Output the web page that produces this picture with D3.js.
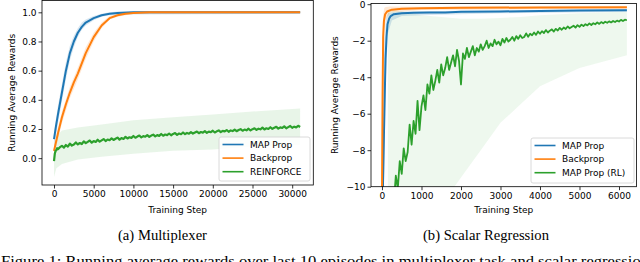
<!DOCTYPE html>
<html>
<head>
<meta charset="utf-8">
<script src="https://cdn.jsdelivr.net/npm/d3@7"></script>
<style>
  body { margin: 0; background: #fff; }
  text { font-family: "DejaVu Sans", sans-serif; }
</style>
</head>
<body>
<svg id="fig" width="640" height="262"></svg>
<script>
// ---- data ----
// (a) Multiplexer : [step, value]
const muxMapProp = [[0,0.13],[250,0.22],[500,0.3],[1000,0.45],[1500,0.6],[2000,0.72],[2500,0.8],[3000,0.86],[3500,0.9],[4000,0.93],[5000,0.96],[6000,0.98],[7000,0.99],[8000,0.995],[10000,1.0],[20000,1.0],[31000,1.0]];
const muxBackprop = [[0,0.05],[250,0.11],[500,0.17],[1000,0.28],[1500,0.37],[2000,0.45],[2500,0.52],[3000,0.58],[4000,0.72],[5000,0.83],[6000,0.91],[7000,0.96],[8000,0.98],[9000,0.99],[10000,0.995],[12000,1.0],[31000,1.0]];
const muxReinforce = [[0,-0.02],[100,0.03],[200,0.05],[300,0.055],[400,0.068],[500,0.062],[750,0.075],
  [1000,0.085],[1250,0.072],[1500,0.09],[1750,0.079],[2000,0.1],[2250,0.086],[2500,0.093],[2750,0.108],[3000,0.094],[3250,0.104],[3500,0.097],[3750,0.115],
  [4000,0.103],[4250,0.112],[4500,0.121],[4750,0.106],[5000,0.117],[5250,0.111],[5500,0.126],[5750,0.113],[6000,0.122],[6250,0.131],[6500,0.117],[6750,0.128],
  [7000,0.123],[7250,0.136],[7500,0.125],[7750,0.133],[8000,0.141],[8250,0.127],[8500,0.138],[8750,0.132],[9000,0.146],[9250,0.135],[9500,0.143],[9750,0.139],
  [10000,0.152],[10250,0.14],[10500,0.148],[10750,0.155],[11000,0.142],[11250,0.151],[11500,0.147],[11750,0.158],[12000,0.146],[12250,0.155],[12500,0.161],[12750,0.149],
  [13000,0.158],[13250,0.153],[13500,0.166],[13750,0.154],[14000,0.162],[14250,0.158],[14500,0.169],[14750,0.157],[15000,0.166],[15250,0.172],[15500,0.16],[15750,0.169],
  [16000,0.164],[16250,0.176],[16500,0.165],[16750,0.173],[17000,0.168],[17250,0.179],[17500,0.169],[17750,0.176],[18000,0.182],[18250,0.171],[18500,0.179],[18750,0.175],
  [19000,0.185],[19250,0.174],[19500,0.182],[19750,0.178],[20000,0.188],[20250,0.176],[20500,0.184],[20750,0.19],[21000,0.179],[21250,0.187],[21500,0.183],[21750,0.193],
  [22000,0.181],[22250,0.19],[22500,0.186],[22750,0.196],[23000,0.185],[23250,0.193],[23500,0.199],[23750,0.188],[24000,0.196],[24250,0.191],[24500,0.202],[24750,0.19],
  [25000,0.199],[25250,0.205],[25500,0.194],[25750,0.202],[26000,0.198],[26250,0.209],[26500,0.197],[26750,0.205],[27000,0.2],[27250,0.212],[27500,0.201],[27750,0.208],
  [28000,0.215],[28250,0.203],[28500,0.211],[28750,0.207],[29000,0.218],[29250,0.205],[29500,0.213],[29750,0.221],[30000,0.208],[30250,0.216],[30500,0.211],[30750,0.222],[31000,0.214]];
// bands : [step, low, high]
const muxMapPropBand = [[0,0.08,0.18],[500,0.24,0.36],[1000,0.39,0.51],[1500,0.54,0.66],[2000,0.67,0.77],[2500,0.76,0.84],[3000,0.83,0.89],[3500,0.88,0.93],[4000,0.91,0.95],[5000,0.945,0.975],[6000,0.97,0.99],[7000,0.98,1.0],[8000,0.985,1.005],[31000,0.99,1.005]];
const muxBackpropBand = [[0,0.01,0.09],[500,0.13,0.21],[1000,0.24,0.32],[2000,0.41,0.49],[3000,0.54,0.62],[4000,0.68,0.76],[5000,0.8,0.86],[6000,0.89,0.93],[7000,0.95,0.975],[8000,0.97,0.99],[10000,0.99,1.0],[31000,0.995,1.005]];
const muxReinforceBand = [[0,-0.13,0.06],[300,-0.07,0.15],[1000,-0.04,0.19],[3000,-0.01,0.21],[6000,0.01,0.23],[10000,0.03,0.26],[15000,0.05,0.28],[20000,0.06,0.3],[25000,0.08,0.32],[31000,0.09,0.34]];

// (b) Scalar Regression : [step, value]
const regMapProp = [[20,-10.5],[60,-6],[90,-3],[115,-1.8],[140,-1.1],[180,-0.8],[220,-0.65],[300,-0.55],[500,-0.5],[800,-0.47],[1200,-0.45],[1600,-0.46],[2000,-0.42],[3000,-0.4],[4000,-0.37],[5000,-0.35],[6200,-0.33]];
const regBackprop = [[0,-10.5],[15,-5],[30,-1.8],[50,-0.9],[80,-0.55],[130,-0.4],[250,-0.3],[500,-0.25],[1000,-0.22],[2000,-0.2],[4000,-0.18],[6200,-0.17]];
const regMapPropRL = [[200,-10.8],[250,-10.2],[300,-10.9],[350,-9.4],[400,-10.1],[450,-8.6],[500,-9.3],[550,-7.9],[600,-8.6],[650,-8.1],[700,-6.6],[750,-7.7],
  [800,-6.4],[850,-7.1],[900,-5.3],[950,-6.9],[1000,-5.6],[1050,-5.0],[1100,-5.8],[1150,-4.4],[1200,-4.9],[1250,-3.9],[1300,-4.7],[1350,-4.2],
  [1400,-3.6],[1450,-4.3],[1500,-3.3],[1550,-3.9],[1600,-3.5],[1650,-2.9],[1700,-3.6],[1750,-3.2],[1800,-2.8],[1850,-3.4],[1900,-2.5],[1950,-3.1],
  [2000,-4.4],[2050,-2.7],[2100,-3.0],[2150,-2.4],[2200,-2.9],[2250,-2.6],[2300,-2.3],[2350,-2.8],[2400,-2.4],[2450,-2.6],[2500,-2.2],[2550,-2.5],
  [2600,-2.3],[2650,-2.0],[2700,-2.4],[2750,-2.15],[2800,-2.3],[2850,-1.95],[2900,-2.2],[2950,-2.05],[3000,-2.25],[3050,-1.9],[3100,-2.1],[3150,-1.85],
  [3200,-2.05],[3250,-1.95],[3300,-1.8],[3350,-2.0],[3400,-1.75],[3450,-1.9],[3500,-1.7],[3550,-1.85],[3600,-1.8],[3650,-1.6],[3700,-1.78],[3750,-1.62],
  [3800,-1.7],[3850,-1.55],[3900,-1.68],[3950,-1.5],[4000,-1.62],[4050,-1.48],[4100,-1.58],[4150,-1.42],[4200,-1.55],[4250,-1.45],[4300,-1.38],[4350,-1.5],
  [4400,-1.35],[4450,-1.44],[4500,-1.3],[4550,-1.4],[4600,-1.28],[4650,-1.36],[4700,-1.22],[4750,-1.32],[4800,-1.25],[4850,-1.18],[4900,-1.28],[4950,-1.15],
  [5000,-1.24],[5050,-1.12],[5100,-1.2],[5150,-1.1],[5200,-1.16],[5250,-1.05],[5300,-1.14],[5350,-1.04],[5400,-1.1],[5450,-1.0],[5500,-1.08],[5550,-0.98],
  [5600,-1.05],[5650,-0.96],[5700,-1.02],[5750,-0.94],[5800,-1.0],[5850,-0.92],[5900,-0.98],[5950,-0.9],[6000,-0.95],[6050,-0.86],[6100,-0.92],[6150,-0.85],[6200,-0.88]];
const regMapPropBand = [[20,-12,-5],[60,-9,-2],[100,-4,-0.8],[150,-1.6,-0.5],[250,-0.9,-0.45],[500,-0.65,-0.4],[1000,-0.6,-0.38],[3000,-0.5,-0.33],[6200,-0.42,-0.27]];
const regBackpropBand = [[0,-12,-2],[30,-3,-0.6],[60,-1.3,-0.2],[100,-0.8,-0.15],[200,-0.45,-0.12],[1000,-0.32,-0.14],[6200,-0.24,-0.12]];
const regMapPropRLBand = [[150,-12,-0.3],[500,-12,-0.4],[1000,-12,-0.6],[1500,-11,-0.7],[2000,-9.5,-0.8],[2500,-8,-0.8],[3000,-6.5,-0.75],[3500,-5.5,-0.7],[4000,-4.5,-0.6],[5000,-3.5,-0.5],[6200,-2.8,-0.4]];

const muxXTicks = [0, 5000, 10000, 15000, 20000, 25000, 30000];
const muxYTicks = [0.0, 0.2, 0.4, 0.6, 0.8, 1.0];
const regXTicks = [0, 1000, 2000, 3000, 4000, 5000, 6000];
const regYTicks = [-10, -8, -6, -4, -2, 0];
const muxLegend = ["MAP Prop", "Backprop", "REINFORCE"];
const regLegend = ["MAP Prop", "Backprop", "MAP Prop (RL)"];

const blue = "#1f77b4", orange = "#ff7f0e", green = "#2ca02c";
const svg = d3.select("#fig");

function drawPanel(p) {
  const x = d3.scaleLinear().domain(p.xDomain).range([p.left, p.right]);
  const y = d3.scaleLinear().domain(p.yDomain).range([p.bottom, p.top]);
  const g = svg.append("g");

  g.append("clipPath").attr("id", p.id + "clip")
    .append("rect").attr("x", p.left).attr("y", p.top)
    .attr("width", p.right - p.left).attr("height", p.bottom - p.top);
  const plot = g.append("g").attr("clip-path", `url(#${p.id}clip)`);

  const area = d3.area().x(d => x(d[0])).y0(d => y(d[1])).y1(d => y(d[2]));
  const line = d3.line().x(d => x(d[0])).y(d => y(d[1]));

  p.bands.forEach(b => {
    plot.append("path").attr("d", area(b.data))
      .attr("fill", b.color).attr("fill-opacity", b.opacity);
  });
  p.lines.forEach(l => {
    plot.append("path").attr("d", line(l.data))
      .attr("fill", "none").attr("stroke", l.color)
      .attr("stroke-width", l.width).attr("stroke-linejoin", "round");
  });

  // axes
  const xa = g.append("g").attr("transform", `translate(0,${p.bottom})`)
    .call(d3.axisBottom(x).tickValues(p.xTicks).tickSize(3.5).tickPadding(2).tickFormat(d3.format("d")));
  const ya = g.append("g").attr("transform", `translate(${p.left},0)`)
    .call(d3.axisLeft(y).tickValues(p.yTicks).tickSize(3.5).tickPadding(2).tickFormat(p.yFormat));
  [xa, ya].forEach(a => {
    a.select(".domain").remove();
    a.selectAll("text").attr("font-size", 9).attr("fill", "#000")
      .attr("font-family", "DejaVu Sans");
    a.selectAll("line").attr("stroke", "#000").attr("stroke-width", 0.8);
  });

  g.append("rect").attr("x", p.left).attr("y", p.top)
    .attr("width", p.right - p.left).attr("height", p.bottom - p.top)
    .attr("fill", "none").attr("stroke", "#000").attr("stroke-width", 0.8);

  g.append("text").attr("x", (p.left + p.right) / 2).attr("y", 213)
    .attr("text-anchor", "middle").attr("font-size", 9).text("Training Step");
  g.append("text").attr("transform", `translate(${p.ylabelX},${(p.top + p.bottom) / 2}) rotate(-90)`)
    .attr("text-anchor", "middle").attr("font-size", 9).text("Running Average Rewards");

  // legend
  const L = p.legend;
  const lg = g.append("g");
  lg.append("rect").attr("x", L.x).attr("y", L.y).attr("width", L.w).attr("height", L.h)
    .attr("rx", 2).attr("fill", "#fff").attr("fill-opacity", 0.85)
    .attr("stroke", "#d0d0d0").attr("stroke-width", 0.8);
  L.items.forEach((name, i) => {
    const yy = L.y + 7.5 + i * 13.6;
    lg.append("line").attr("x1", L.x + 3.5).attr("x2", L.x + 24.5)
      .attr("y1", yy).attr("y2", yy).attr("stroke", p.lines[i].color).attr("stroke-width", 1.6);
    lg.append("text").attr("x", L.x + 31).attr("y", yy + 3.2)
      .attr("font-size", 9).text(name);
  });

  svg.append("text").attr("x", p.capX).attr("y", 240).attr("text-anchor", "middle")
    .attr("font-size", 15)
    .attr("textLength", p.capW).attr("lengthAdjust", "spacingAndGlyphs")
    .style("font-family", "'Liberation Serif', serif").text(p.caption);
}

drawPanel({
  id: "mux", left: 42, right: 313.3, top: 0.5, bottom: 185,
  xDomain: [-1511, 32657], yDomain: [-0.184, 1.081],
  xTicks: muxXTicks, yTicks: muxYTicks, yFormat: d3.format(".1f"),
  bands: [
    { data: muxReinforceBand, color: green, opacity: 0.11 },
    { data: muxMapPropBand, color: blue, opacity: 0.18 },
    { data: muxBackpropBand, color: orange, opacity: 0.18 }
  ],
  lines: [
    { data: muxMapProp, color: blue, width: 2 },
    { data: muxBackprop, color: orange, width: 2 },
    { data: muxReinforce, color: green, width: 2.2 }
  ],
  legend: { x: 219, y: 137, w: 91, h: 44, items: muxLegend },
  ylabelX: 14.5, caption: "(a) Multiplexer", capX: 162.5, capW: 89
});

drawPanel({
  id: "reg", left: 371, right: 636.5, top: 3.5, bottom: 186.7,
  xDomain: [-278, 6443], yDomain: [-10, 0.038],
  xTicks: regXTicks, yTicks: regYTicks, yFormat: d3.format("d"),
  bands: [
    { data: regMapPropRLBand, color: green, opacity: 0.08 },
    { data: regMapPropBand, color: blue, opacity: 0.18 },
    { data: regBackpropBand, color: orange, opacity: 0.18 }
  ],
  lines: [
    { data: regMapProp, color: blue, width: 2 },
    { data: regBackprop, color: orange, width: 2 },
    { data: regMapPropRL, color: green, width: 1.8 }
  ],
  legend: { x: 531, y: 138, w: 103, h: 45, items: regLegend },
  ylabelX: 337.5, caption: "(b) Scalar Regression", capX: 486, capW: 126
});

svg.append("text").attr("x", 1).attr("y", 266)
  .style("font-family", "'Liberation Serif', serif").attr("font-size", 15)
  .attr("textLength", 648).attr("lengthAdjust", "spacingAndGlyphs")
  .text("Figure 1: Running average rewards over last 10 episodes in multiplexer task and scalar regression");
</script>
</body>
</html>
